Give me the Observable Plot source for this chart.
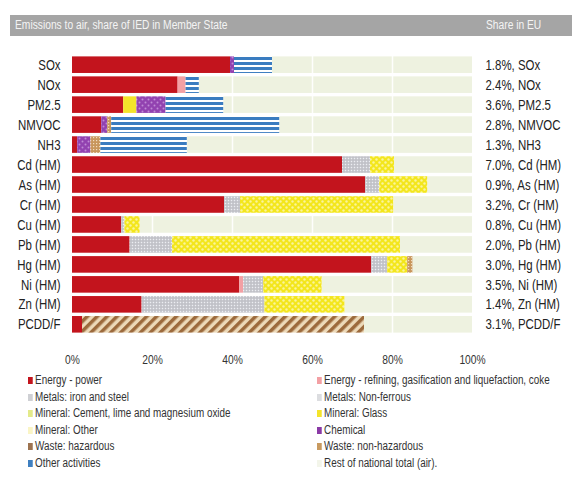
<!DOCTYPE html>
<html>
<head>
<meta charset="utf-8">
<script src="https://cdn.jsdelivr.net/npm/d3@7"></script>
<script src="https://cdn.jsdelivr.net/npm/@observablehq/plot@0.6"></script>
<style>
  body { margin: 0; background: #fff; font-family: "Liberation Sans", Arial, sans-serif; }
  #wrap { position: relative; width: 572px; height: 485px; overflow: hidden; }
  #header { position: absolute; left: 10px; top: 15px; width: 562px; height: 21px; background: #a5a5a5; color: #f4f4f4; font-size: 12.5px; line-height: 21px; }
  #header span { position: absolute; transform: scaleX(0.82); transform-origin: 0 50%; white-space: nowrap; }
  #header .l { left: 5px; }
  #header .r { left: 476px; }
  #chart { position: absolute; left: 0; top: 35px; line-height: 0; }
  #legend { position: absolute; left: 0; top: 373px; width: 572px; font-size: 12.5px; color: #333; }
  .item { position: absolute; white-space: nowrap; transform: scaleX(0.79); transform-origin: 0 50%; }
  .sw { display: inline-block; width: 6px; height: 7px; margin-right: 3px; vertical-align: 0px; }
</style>
</head>
<body>
<div id="wrap">
  <div id="header"><span class="l">Emissions to air, share of IED in Member State</span><span class="r">Share in EU</span></div>
  <div id="chart"></div>
  <div id="legend"></div>
</div>
<script>
const rows = ["SOx","NOx","PM2.5","NMVOC","NH3","Cd (HM)","As (HM)","Cr (HM)","Cu (HM)","Pb (HM)","Hg (HM)","Ni (HM)","Zn (HM)","PCDD/F"];
const shareEU = ["1.8%","2.4%","3.6%","2.8%","1.3%","7.0%","0.9%","3.2%","0.8%","2.0%","3.0%","3.5%","1.4%","3.1%"];
const xTicks = [0, 20, 40, 60, 80, 100];

const sectors = [
  "Energy - power",
  "Energy - refining, gasification and liquefaction, coke",
  "Metals: iron and steel",
  "Metals: Non-ferrous",
  "Mineral: Cement, lime and magnesium oxide",
  "Mineral: Glass",
  "Mineral: Other",
  "Chemical",
  "Waste: hazardous",
  "Waste: non-hazardous",
  "Other activities",
  "Rest of national total (air)."
];

const energyPower     = [39.5, 26.4, 12.8, 7.3, 1.3, 67.5, 73.3, 38.0, 12.3, 14.4, 74.8, 41.8, 17.4, 2.5];
const energyRefining  = [0, 2.0, 0, 0, 0, 0, 0, 0, 0, 0, 0, 1.0, 0, 0];
const metalsIron      = [0, 0, 0, 0, 0, 0, 0, 0, 0, 0, 0, 0, 0, 0];
const metalsNonFerrous= [0, 0, 0, 0, 0, 7.0, 3.5, 4.0, 0.8, 10.6, 4.0, 5.0, 30.7, 0];
const mineralCement   = [0, 0, 3.3, 0, 0, 0, 0, 0, 0, 0, 0, 0, 0, 0];
const mineralGlass    = [0, 0, 0, 0, 0, 6.0, 12.0, 38.3, 3.8, 57.0, 5.0, 14.6, 20.0, 0];
const mineralOther    = [0, 0, 0, 0, 0, 0, 0, 0, 0, 0, 0, 0, 0, 0];
const chemical        = [1.0, 0, 7.3, 1.5, 3.3, 0, 0, 0, 0, 0, 0, 0, 0, 0];
const wasteHazardous  = [0, 0, 0, 0, 0, 0, 0, 0, 0, 0, 0, 0, 0, 70.5];
const wasteNonHaz     = [0, 0, 0, 1.0, 2.5, 0, 0, 0, 0, 0, 1.3, 0, 0, 0];
const otherActivities = [9.5, 3.3, 14.4, 42.0, 21.6, 0, 0, 0, 0, 0, 0, 0, 0, 0];

const series = [energyPower, energyRefining, metalsIron, metalsNonFerrous, mineralCement, mineralGlass,
                mineralOther, chemical, wasteHazardous, wasteNonHaz, otherActivities];

const fills = {
  "Energy - power": "#c3141d",
  "Energy - refining, gasification and liquefaction, coke": "#f3a0a4",
  "Metals: iron and steel": "url(#pGrey)",
  "Metals: Non-ferrous": "url(#pGrey)",
  "Mineral: Cement, lime and magnesium oxide": "#f4e42a",
  "Mineral: Glass": "url(#pYellow)",
  "Mineral: Other": "#fcf7c8",
  "Chemical": "url(#pPurple)",
  "Waste: hazardous": "url(#pDiag)",
  "Waste: non-hazardous": "url(#pBrownDots)",
  "Other activities": "url(#pStripe)",
  "Rest of national total (air).": "#eef2e0"
};
const swatch = {
  "Energy - power": "#c3141d",
  "Energy - refining, gasification and liquefaction, coke": "#f3a0a4",
  "Metals: iron and steel": "#cfd0d4",
  "Metals: Non-ferrous": "#dcdde0",
  "Mineral: Cement, lime and magnesium oxide": "#e3ea8a",
  "Mineral: Glass": "#f4e42a",
  "Mineral: Other": "#faf5c6",
  "Chemical": "#8a3aa6",
  "Waste: hazardous": "#9d7350",
  "Waste: non-hazardous": "#c89a60",
  "Other activities": "#3f7fc0",
  "Rest of national total (air).": "#f3f5ea"
};

const segs = [];
rows.forEach((r, i) => {
  series.forEach((s, k) => {
    if (s[i] > 0) segs.push({row: r, sector: sectors[k], value: s[i]});
  });
});
const totals = rows.map((r, i) => series.reduce((a, s) => a + s[i], 0));
const rest = rows.map((r, i) => ({row: r, x1: totals[i], x2: 100}));
const labels = rows.map((r, i) => ({row: r, label: shareEU[i] + ", " + r}));

const plot = Plot.plot({
  width: 572,
  height: 335,
  marginLeft: 72,
  marginRight: 100,
  marginTop: 18,
  marginBottom: 34,
  style: {fontFamily: '"Liberation Sans", Arial, sans-serif', background: "transparent", color: "#333"},
  x: {domain: [0, 100]},
  y: {domain: rows, padding: 0.17, round: false},
  color: {type: "identity"},
  marks: [
    Plot.barX(rest, {x1: "x1", x2: "x2", y: "row", fill: "#eef2e0"}),
    Plot.ruleX([20, 40, 60, 80], {stroke: "#fff", strokeWidth: 1.5, strokeOpacity: 0.9}),
    Plot.barX(segs, Plot.stackX({x: "value", y: "row", z: "sector", order: sectors, fill: d => fills[d.sector]})),
    Plot.axisY({tickSize: 0, tickPadding: 12, fontSize: 14.5, label: null, color: "#222"}),
    Plot.axisX({ticks: xTicks, tickFormat: d => d + "%", tickSize: 0, tickPadding: 18, fontSize: 13, label: null, color: "#333"}),
    Plot.text(labels, {x: () => 100, y: "row", text: "label", textAnchor: "start", dx: 13, fontSize: 14.5, fill: "#222"})
  ]
});

// patterns
const svg = d3.select(plot);
const defs = svg.insert("defs", ":first-child");
let p = defs.append("pattern").attr("id", "pStripe").attr("patternUnits", "userSpaceOnUse").attr("width", 6).attr("height", 5);
p.append("rect").attr("width", 6).attr("height", 5).attr("fill", "#ffffff");
p.append("rect").attr("y", 2).attr("width", 6).attr("height", 3).attr("fill", "#3a7cc0");
p = defs.append("pattern").attr("id", "pGrey").attr("patternUnits", "userSpaceOnUse").attr("width", 3).attr("height", 3);
p.append("rect").attr("width", 3).attr("height", 3).attr("fill", "#c9cad0");
p.append("rect").attr("width", 1).attr("height", 1).attr("fill", "#eceef2");
p.append("rect").attr("x", 1.5).attr("y", 1.5).attr("width", 1).attr("height", 1).attr("fill", "#a9aab2");
p = defs.append("pattern").attr("id", "pYellow").attr("patternUnits", "userSpaceOnUse").attr("width", 6).attr("height", 6);
p.append("rect").attr("width", 6).attr("height", 6).attr("fill", "#f3e61c");
p.append("circle").attr("cx", 1.5).attr("cy", 1.5).attr("r", 1.2).attr("fill", "#fbf59a");
p.append("circle").attr("cx", 4.5).attr("cy", 4.5).attr("r", 1.2).attr("fill", "#fbf59a");
p = defs.append("pattern").attr("id", "pPurple").attr("patternUnits", "userSpaceOnUse").attr("width", 6).attr("height", 6);
p.append("rect").attr("width", 6).attr("height", 6).attr("fill", "#9242b0");
p.append("circle").attr("cx", 1.5).attr("cy", 1.5).attr("r", 1).attr("fill", "#c08ad6");
p.append("circle").attr("cx", 4.5).attr("cy", 4.5).attr("r", 1).attr("fill", "#c08ad6");
p = defs.append("pattern").attr("id", "pDiag").attr("patternUnits", "userSpaceOnUse").attr("width", 7).attr("height", 7).attr("patternTransform", "rotate(45)");
p.append("rect").attr("width", 7).attr("height", 7).attr("fill", "#ecd9b8");
p.append("rect").attr("width", 3.5).attr("height", 7).attr("fill", "#9c6a3c");
p = defs.append("pattern").attr("id", "pBrownDots").attr("patternUnits", "userSpaceOnUse").attr("width", 3).attr("height", 3);
p.append("rect").attr("width", 3).attr("height", 3).attr("fill", "#c8965c");
p.append("rect").attr("width", 1.2).attr("height", 1.2).attr("fill", "#f0dcc0");

// condense all svg texts horizontally (narrow typeface look)
svg.selectAll("text").each(function() {
  const el = this;
  const t = el.getAttribute("transform");
  if (t && t.includes("translate")) {
    el.setAttribute("transform", t + " scale(0.79,1)");
  } else {
    const x = +(el.getAttribute("x") || 0), y = +(el.getAttribute("y") || 0);
    el.removeAttribute("x"); el.removeAttribute("y");
    el.setAttribute("transform", `translate(${x},${y}) scale(0.79,1)`);
  }
});

document.getElementById("chart").appendChild(plot);

// legend
const leg = document.getElementById("legend");
sectors.forEach((name, idx) => {
  const i = Math.floor(idx / 2), j = idx % 2;
  const div = document.createElement("div");
  div.className = "item";
  div.style.left = (j === 0 ? 28 : 317) + "px";
  div.style.top = (i * 16.5) + "px";
  const sw = document.createElement("span");
  sw.className = "sw";
  sw.style.background = swatch[name];
  div.appendChild(sw);
  div.appendChild(document.createTextNode(name));
  leg.appendChild(div);
});
</script>
</body>
</html>
